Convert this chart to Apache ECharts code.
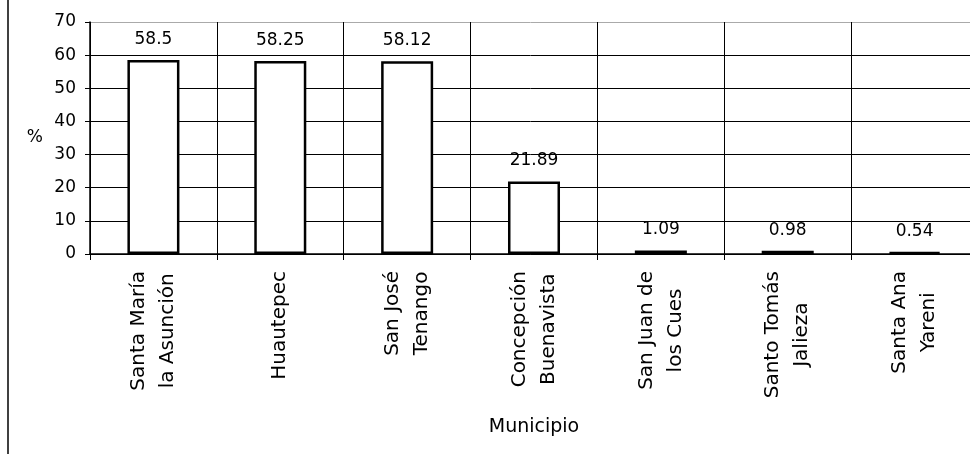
<!DOCTYPE html>
<html>
<head>
<meta charset="utf-8">
<script src="https://cdn.jsdelivr.net/npm/echarts@6/dist/echarts.min.js"></script>
<style>
  html, body { margin: 0; padding: 0; background: #fff; overflow: hidden; }
  #chart { width: 970px; height: 454px; }
</style>
</head>
<body>
<div id="chart"></div>
<script>
const categories = [
  'Santa María\nla Asunción',
  'Huautepec',
  'San José\nTenango',
  'Concepción\nBuenavista',
  'San Juan de\nlos Cues',
  'Santo Tomás\nJalieza',
  'Santa Ana\nYareni'
];
const values = [58.5, 58.25, 58.12, 21.89, 1.09, 0.98, 0.54];
const yTicks = [0, 10, 20, 30, 40, 50, 60, 70];

const FONT = 'DejaVu Sans';
const chart = echarts.init(document.getElementById('chart'), null, { renderer: 'canvas' });

chart.setOption({
  backgroundColor: '#fff',
  animation: false,
  grid: { left: 90, width: 888, top: 22, height: 232, outerBoundsMode: 'none', containLabel: false },
  graphic: [{
    type: 'line',
    shape: { x1: 8, y1: 0, x2: 8, y2: 454 },
    style: { stroke: '#000', lineWidth: 1.5 }
  }],
  xAxis: {
    type: 'category',
    data: categories,
    name: 'Municipio',
    nameLocation: 'middle',
    nameGap: 164,
    nameTextStyle: { fontFamily: FONT, fontSize: 19, color: '#000' },
    axisLine: { lineStyle: { color: '#000', width: 1.5 } },
    axisTick: { show: true, length: 6, lineStyle: { color: '#000' } },
    splitLine: { show: true, lineStyle: { color: '#000', width: 1 } },
    axisLabel: {
      interval: 0,
      rotate: 90,
      margin: 17,
      color: '#000',
      fontFamily: FONT,
      fontSize: 20,
      lineHeight: 29,
      formatter: function (v) {
        return v.split('\n').map(function (l) { return '{c|' + l + '}'; }).join('\n');
      },
      rich: { c: { align: 'center', fontFamily: FONT, fontSize: 20, lineHeight: 29, color: '#000' } }
    }
  },
  yAxis: {
    type: 'value',
    min: yTicks[0],
    max: yTicks[yTicks.length - 1],
    interval: 10,
    name: '%',
    nameLocation: 'middle',
    nameRotate: 0,
    nameGap: 47,
    nameTextStyle: { fontFamily: FONT, fontSize: 17, color: '#000' },
    axisLine: { show: true, lineStyle: { color: '#000', width: 1.5 } },
    axisTick: { show: true, length: 5, lineStyle: { color: '#000' } },
    axisLabel: { margin: 14, color: '#000', fontFamily: FONT, fontSize: 17 },
    splitLine: {
      show: true,
      lineStyle: { color: ['#000', '#000', '#000', '#000', '#000', '#000', '#000', '#aaa'], width: 1 }
    }
  },
  series: [{
    type: 'bar',
    data: values,
    barWidth: '41%',
    itemStyle: { color: '#fff', borderColor: '#000', borderWidth: 2.5 },
    label: {
      show: true,
      position: 'top',
      distance: 12,
      color: '#000',
      fontFamily: FONT,
      fontSize: 17
    }
  }]
});
</script>
</body>
</html>
